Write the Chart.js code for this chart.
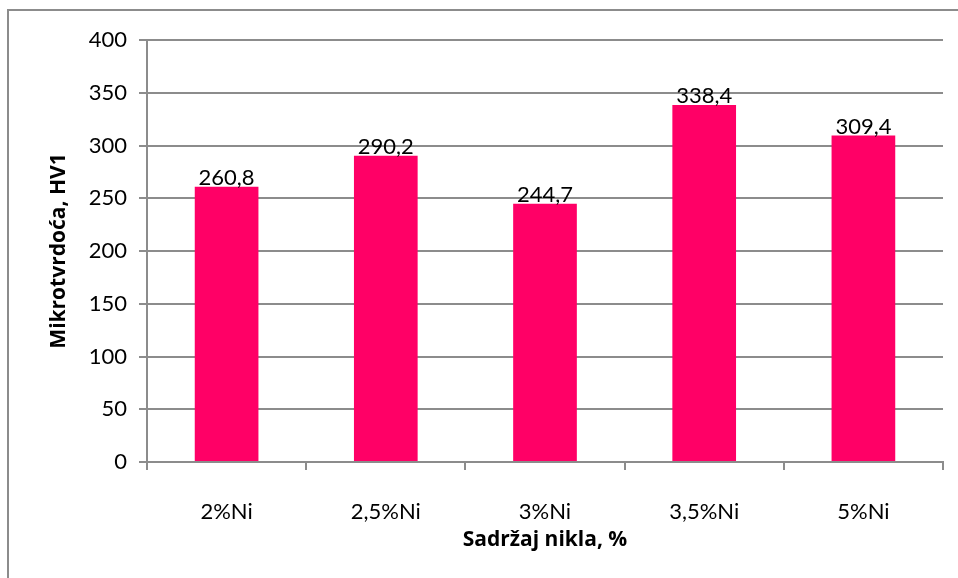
<!DOCTYPE html>
<html lang="hr">
<head>
<meta charset="UTF-8">
<title>Mikrotvrdoća</title>
<script src="https://cdn.jsdelivr.net/npm/chart.js"></script>
<style>
    html, body { margin: 0; padding: 0; background: #fff; overflow: hidden; }
    #wrap { position: relative; width: 958px; height: 578px; }
    #frame {
        position: absolute; left: 7px; top: 9px; width: 960px; height: 580px;
        border-left: 2px solid #8c8c8c; border-top: 2px solid #8c8c8c; pointer-events: none;
    }
</style>
</head>
<body>
<div id="wrap">
    <canvas id="hardnessChart" width="958" height="578"></canvas>
    <div id="frame"></div>
</div>
<script>
const categories = ['2%Ni', '2,5%Ni', '3%Ni', '3,5%Ni', '5%Ni'];
const hardness = [260.8, 290.2, 244.7, 338.4, 309.4];
const yTicks = [0, 50, 100, 150, 200, 250, 300, 350, 400];

const FONT = 'Lato, "Liberation Sans", sans-serif';
const TITLE_FONT = '"Open Sans", "Noto Sans", sans-serif';
const GRAY = '#8c8c8c';

// writes the value (decimal comma) just above each bar
const valueLabels = {
    id: 'valueLabels',
    afterDatasetsDraw(chart) {
        const ctx = chart.ctx;
        const meta = chart.getDatasetMeta(0);
        ctx.save();
        ctx.font = '22px ' + FONT;
        ctx.fillStyle = '#000';
        ctx.textAlign = 'center';
        ctx.textBaseline = 'alphabetic';
        meta.data.forEach((bar, i) => {
            const txt = hardness[i].toFixed(1).replace('.', ',');
            ctx.fillText(txt, bar.x, bar.y - 2);
        });
        ctx.restore();
    }
};

new Chart(document.getElementById('hardnessChart'), {
    type: 'bar',
    data: {
        labels: categories,
        datasets: [{
            data: hardness,
            backgroundColor: '#ff0066',
            barPercentage: 0.4,
            categoryPercentage: 1.0
        }]
    },
    options: {
        responsive: false,
        animation: false,
        layout: { padding: { top: 40, right: 15, left: 0, bottom: 0 } },
        plugins: { legend: { display: false }, tooltip: { enabled: false } },
        scales: {
            x: {
                offset: true,
                grid: { drawOnChartArea: false, drawTicks: true, tickLength: 8, color: GRAY, lineWidth: 2, offset: true },
                border: { color: GRAY, width: 2 },
                ticks: { color: '#000', font: { family: FONT, size: 22 }, padding: 29 },
                title: { display: true, text: 'Sadržaj nikla, %', color: '#000',
                         font: { family: TITLE_FONT, size: 21, weight: 'bold' }, padding: { top: 0, bottom: 25 } },
                afterFit(scale) { scale.height = 578 - 462; }
            },
            y: {
                min: 0, max: 400,
                afterBuildTicks(scale) { scale.ticks = yTicks.map(v => ({ value: v })); },
                grid: { color: GRAY, lineWidth: 2, tickLength: 8 },
                border: { color: GRAY, width: 2 },
                ticks: { color: '#000', font: { family: FONT, size: 22 }, padding: 12 },
                title: { display: true, text: 'Mikrotvrdoća, HV1', color: '#000',
                         font: { family: TITLE_FONT, size: 21, weight: 'bold' }, padding: { top: 46, bottom: 0 } },
                afterFit(scale) { scale.width = 147; }
            }
        }
    },
    plugins: [valueLabels]
});
</script>
</body>
</html>
